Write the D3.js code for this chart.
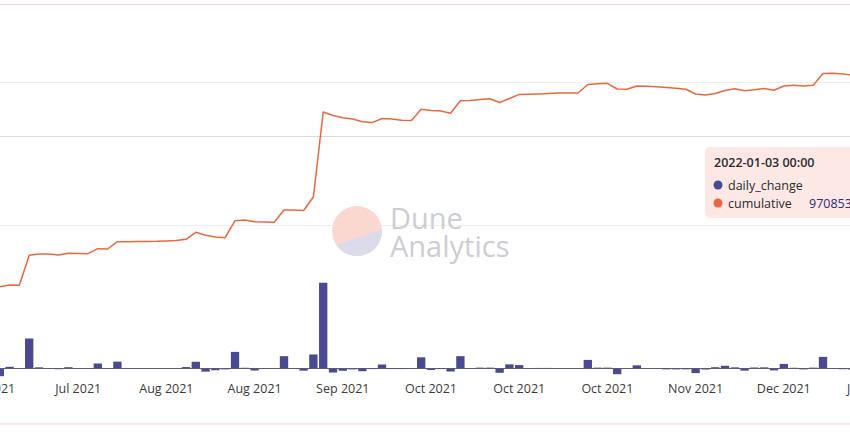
<!DOCTYPE html>
<html>
<head>
<meta charset="utf-8">
<script src="https://cdn.jsdelivr.net/npm/d3@7"></script>
<style>
  body { margin: 0; background: #fff; }
  svg { display: block; font-family: "Open Sans", "Noto Sans", sans-serif; }
</style>
</head>
<body>
<svg class="chart"></svg>
<script>
var width = 850,
    height = 434;

// categories (one per data row)
var dates = [
  "2021-06-20","2021-06-22","2021-06-24","2021-06-26","2021-06-28","2021-06-30","2021-07-01","2021-07-03","2021-07-05",
  "2021-07-07","2021-07-09","2021-07-12","2021-07-14","2021-07-17","2021-07-19","2021-07-22","2021-07-25","2021-07-28",
  "2021-08-01","2021-08-03","2021-08-05","2021-08-07","2021-08-09","2021-08-11","2021-08-13","2021-08-15","2021-08-17",
  "2021-08-19","2021-08-21","2021-08-23","2021-08-25","2021-08-27","2021-08-29","2021-08-31","2021-09-01","2021-09-03",
  "2021-09-05","2021-09-08","2021-09-11","2021-09-14","2021-09-17","2021-09-20","2021-09-23","2021-09-26","2021-09-29",
  "2021-10-01","2021-10-02","2021-10-03","2021-10-04","2021-10-05","2021-10-07","2021-10-08","2021-10-09","2021-10-10",
  "2021-10-11","2021-10-12","2021-10-13","2021-10-14","2021-10-16","2021-10-18","2021-10-20","2021-10-22","2021-10-24",
  "2021-10-26","2021-10-28","2021-10-30","2021-11-01","2021-11-03","2021-11-05","2021-11-07","2021-11-09","2021-11-11",
  "2021-11-14","2021-11-17","2021-11-20","2021-11-22","2021-11-24","2021-11-26","2021-11-28","2021-11-30","2021-12-01",
  "2021-12-03","2021-12-06","2021-12-09","2021-12-12","2021-12-15","2021-12-18","2021-12-21","2021-12-24","2021-12-28",
  "2022-01-03"
];

// daily_change, millions
var dailyChange = [
  0.6, -2.68, 0.59, -0.1, 10.46, 0.4, 0, -0.25, 0.45,
  0.05, -0.05, 1.74, -0.1, 2.4, 0, 0.05, 0.05, 0.05,
  0.05, 0.1, 0.5, 2.35, -1.1, -0.6, -0.3, 5.8, 0.25,
  -0.7, -0.1, -0.1, 4.3, 0, -0.75, 4.9, 29.9, -1.4,
  -0.8, -0.3, -0.95, -0.2, 1.4, -0.2, -0.2, -0.15, 3.9,
  -0.5, -0.2, -1.05, 4.3, 0.1, 0.3, 0.3, -1.5, 1.45,
  1.2, 0.05, 0.2, 0.2, 0.15, 0.05, 0.05, 3.0, 0.3,
  0.3, -2.0, -0.1, 1.1, -0.1, -0.15, -0.3, -0.3, -0.3,
  -1.6, -0.35, 0.45, 0.95, 0.4, -0.75, 0.35, 0.4, -0.65,
  1.6, 0.25, -0.3, 0.3, 4.05, 0.1, -0.25, -0.35, -0.7,
  -4.5
];

// cumulative, millions
var cumulative = [
  31.21, 28.52, 29.11, 29.01, 39.47, 39.92, 39.92, 39.57, 40.17,
  40.10, 40.03, 41.77, 41.67, 44.21, 44.21, 44.28, 44.32, 44.35,
  44.46, 44.63, 45.05, 47.49, 46.44, 45.85, 45.61, 51.53, 51.78,
  51.19, 51.08, 50.98, 55.27, 55.27, 55.09, 59.80, 89.44, 88.22,
  87.41, 86.99, 86.02, 85.74, 87.17, 86.96, 86.58, 86.44, 90.41,
  89.99, 89.78, 89.02, 93.34, 93.48, 93.79, 94.04, 92.75, 94.14,
  95.57, 95.61, 95.71, 95.85, 96.06, 96.06, 96.06, 99.02, 99.27,
  99.44, 97.45, 97.35, 98.50, 98.40, 98.26, 97.98, 97.70, 97.38,
  95.71, 95.36, 95.89, 96.93, 97.56, 96.83, 97.18, 97.63, 97.00,
  98.50, 98.74, 98.50, 98.78, 102.86, 102.93, 102.68, 102.34, 101.6,
  97.0853
];

var leftTicks = [0, 50, 100];
var rightTicks = [81];
var labelEvery = 9;

var parse = d3.timeParse("%Y-%m-%d"),
    fmtMonth = d3.timeFormat("%b %Y");

var data = dates.map(function(d, i) {
  return { date: d, daily: dailyChange[i], cum: cumulative[i] };
});

// plot area runs past both edges of the picture
var x = d3.scaleBand()
    .domain(dates)
    .range([-14.9, -14.9 + 9.8 * dates.length])
    .paddingInner(0.15)
    .paddingOuter(0.075);

var y = d3.scaleLinear()
    .domain([0, 100])
    .range([368.5, 81.7]);

var chart = d3.select(".chart")
    .attr("width", width)
    .attr("height", height);

// card border
chart.append("rect")
    .attr("x", -20).attr("y", 4.5)
    .attr("width", width + 40).attr("height", 419.5)
    .attr("rx", 6)
    .attr("fill", "#fff")
    .attr("stroke", "#f6d9d5");

// gridlines
chart.append("g").selectAll("line")
    .data(leftTicks.slice(1))
  .enter().append("line")
    .attr("x1", 0).attr("x2", width)
    .attr("y1", function(d) { return Math.round(y(d)) + 0.5; })
    .attr("y2", function(d) { return Math.round(y(d)) + 0.5; })
    .attr("stroke", "#efefef");

chart.append("g").selectAll("line")
    .data(rightTicks)
  .enter().append("line")
    .attr("x1", 0).attr("x2", width)
    .attr("y1", function(d) { return Math.round(y(d)) + 0.5; })
    .attr("y2", function(d) { return Math.round(y(d)) + 0.5; })
    .attr("stroke", "#dcdcdc");

// watermark
var wm = chart.append("g").attr("transform", "translate(357,231)");
wm.append("clipPath").attr("id", "logo-clip")
  .append("circle").attr("r", 25);
wm.append("circle").attr("r", 25).attr("fill", "#fbd8cf");
wm.append("path")
    .attr("clip-path", "url(#logo-clip)")
    .attr("d", "M-26,16 Q-4,8 26,-2 L26,26 L-26,26 Z")
    .attr("fill", "#dcdbe9");
wm.append("text").attr("x", 33).attr("y", -2)
    .attr("font-size", 29).attr("fill", "#cdcdd4")
    .text("Dune");
wm.append("text").attr("x", 33).attr("y", 26)
    .attr("font-size", 29).attr("fill", "#cdcdd4")
    .text("Analytics");

// bars
chart.append("g").selectAll("rect")
    .data(data)
  .enter().append("rect")
    .attr("x", function(d) { return x(d.date); })
    .attr("y", function(d) { return y(Math.max(0, d.daily)); })
    .attr("width", x.bandwidth())
    .attr("height", function(d) { return Math.abs(y(d.daily) - y(0)); })
    .attr("fill", "#4a4a94");

// baseline
chart.append("line")
    .attr("x1", 0).attr("x2", width)
    .attr("y1", y(0)).attr("y2", y(0))
    .attr("stroke", "#5c5c70");

// cumulative line
var line = d3.line()
    .x(function(d) { return x(d.date) + x.bandwidth() / 2; })
    .y(function(d) { return y(d.cum); });

chart.append("path")
    .datum(data)
    .attr("fill", "none")
    .attr("stroke", "#e9683f")
    .attr("stroke-width", 1.5)
    .attr("stroke-linejoin", "round")
    .attr("d", line);

// x labels
chart.append("g").selectAll("text")
    .data(dates.filter(function(d, i) { return i % labelEvery === 0; }))
  .enter().append("text")
    .attr("x", function(d) { return x(d) + x.bandwidth() / 2; })
    .attr("y", 393)
    .attr("text-anchor", "middle")
    .attr("font-size", 12.5)
    .attr("fill", "#3a3a3a")
    .text(function(d) { return fmtMonth(parse(d)); });

// tooltip for the last row
var last = data[data.length - 1];
var tip = chart.append("g").attr("transform", "translate(705,147)");
tip.append("rect")
    .attr("width", 200).attr("height", 71).attr("rx", 5)
    .attr("fill", "#fde8e6");
tip.append("text").attr("x", 9).attr("y", 20)
    .attr("font-size", 12.5).attr("font-weight", 600).attr("fill", "#2b2b2b")
    .text(last.date + " 00:00");
var rows = [
  { name: "daily_change", color: "#4a4a94" },
  { name: "cumulative", color: "#e9683f", value: Math.round(last.cum * 1e6) }
];
var row = tip.selectAll(".row")
    .data(rows)
  .enter().append("g")
    .attr("transform", function(d, i) { return "translate(0," + (38 + i * 18) + ")"; });
row.append("circle").attr("cx", 13).attr("cy", 0).attr("r", 4.5)
    .attr("fill", function(d) { return d.color; });
row.append("text").attr("x", 23).attr("y", 4.5)
    .attr("font-size", 12.5).attr("fill", "#2b2b2b")
    .text(function(d) { return d.name; });
row.filter(function(d) { return d.value != null; })
  .append("text").attr("x", 104).attr("y", 4.5)
    .attr("font-size", 12.5).attr("fill", "#2e2e78")
    .text(function(d) { return d.value; });
</script>
</body>
</html>
